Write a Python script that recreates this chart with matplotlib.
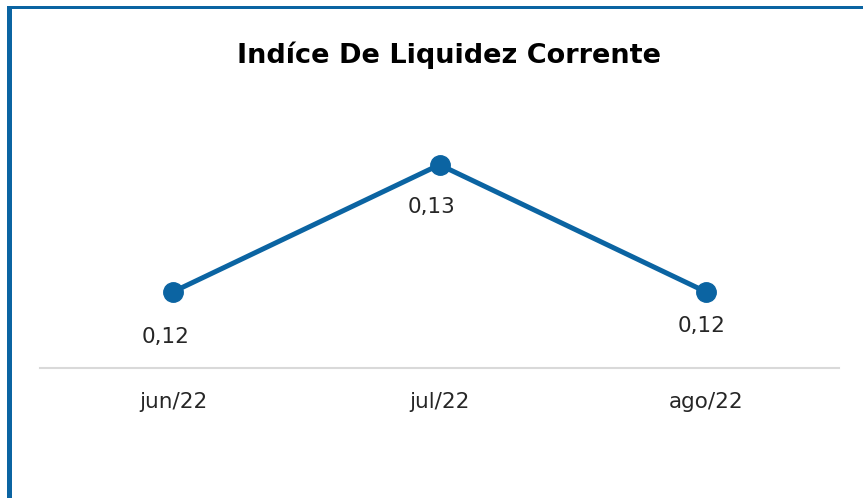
import matplotlib.pyplot as plt
from matplotlib.patches import Rectangle

months = ["jun/22", "jul/22", "ago/22"]
values = [0.12, 0.13, 0.12]
labels = ["0,12", "0,13", "0,12"]

blue = "#0b64a2"
plt.rcParams['font.family'] = ['DejaVu Sans']

fig = plt.figure(figsize=(8.63, 4.98), dpi=100)
W, H = 863, 498
# axes: x 40..839 px, y 100..368 px
ax = fig.add_axes([40 / W, 1 - 368 / H, 799 / W, 268 / H])

x = range(len(months))
ax.plot(x, values, color=blue, lw=3.6, marker="o", markersize=14,
        solid_capstyle="round")
ax.set_xlim(-0.5, 2.5)
ax.set_ylim(0.114, 0.1351)

offsets = [(-8, -45), (-8, -42), (-4, -34)]
for i, (v, lab) in enumerate(zip(values, labels)):
    ax.annotate(lab, (i, v), xytext=offsets[i], textcoords="offset pixels",
                ha="center", va="center", fontsize=15.5, color="#262626")

ax.set_xticks(list(x))
ax.set_xticklabels(months, fontsize=15.5, color="#262626")
ax.tick_params(axis="x", length=0, pad=17)
ax.set_yticks([])
for s in ["top", "right", "left"]:
    ax.spines[s].set_visible(False)
ax.spines["bottom"].set_color("#d9d9d9")
ax.spines["bottom"].set_linewidth(1.5)

fig.text(449 / W, 1 - 55 / H, "Indíce De Liquidez Corrente", ha="center",
         va="center", fontsize=19.5, fontweight="bold", color="#000000")

# border on top and left
fig.add_artist(Rectangle((7 / W, 0), 5 / W, 1 - 6 / H, transform=fig.transFigure,
                         color=blue, lw=0))
fig.add_artist(Rectangle((7 / W, 1 - 9 / H), 1 - 7 / W, 3 / H,
                         transform=fig.transFigure, color=blue, lw=0))

fig.savefig("out.png", dpi=100)
